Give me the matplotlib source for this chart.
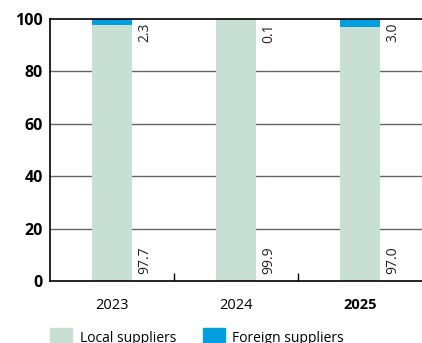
import matplotlib
matplotlib.use('Agg')
import matplotlib.pyplot as plt
import numpy as np
from matplotlib.patches import Patch

years = ['2023', '2024', '2025']
local = [97.7, 99.9, 97.0]
foreign = [2.3, 0.1, 3.0]

colorLocal = '#c8e0d4'
colorForeign = '#009fe0'

plt.rcParams['font.family'] = ['Open Sans', 'DejaVu Sans']

fig = plt.figure(figsize=(4.22, 3.43), dpi=100)
ax = fig.add_axes([50 / 422, 1 - 281 / 343, 1 - 50 / 422, (281 - 19) / 343])

x = np.arange(len(years))
width = 0.33
ax.bar(x, local, width, color=colorLocal, zorder=2)
ax.bar(x, foreign, width, bottom=local, color=colorForeign, zorder=2)

# value labels, rotated, to the right of every bar
for i in range(len(years)):
    ax.text(x[i] + 0.265, 98.5, f'{foreign[i]:.1f}', rotation=90, ha='center', va='top',
            fontsize=10, color='#222222')
    ax.text(x[i] + 0.265, 2.5, f'{local[i]:.1f}', rotation=90, ha='center', va='bottom',
            fontsize=10, color='#222222')

ax.set_xlim(-0.5, 2.5)
ax.set_ylim(0, 100)
ax.set_yticks([0, 20, 40, 60, 80, 100])
ax.set_yticklabels(['0', '20', '40', '60', '80', '100'], fontweight='bold', fontsize=11.5)
for y in [20, 40, 60, 80]:
    ax.axhline(y, color='#666666', lw=1, zorder=1)
ax.axhline(100, color='black', lw=1.2, zorder=3, clip_on=False)

ax.set_xticks(x)
ax.set_xticklabels(years, fontsize=10.5)
ax.get_xticklabels()[2].set_fontweight('bold')
ax.tick_params(axis='x', length=0, pad=12)
ax.tick_params(axis='y', length=0, pad=5)
# small separators between the categories
ax.set_xticks([0.5, 1.5], minor=True)
ax.tick_params(axis='x', which='minor', direction='in', length=6, width=1, color='black')

for side in ['top', 'right']:
    ax.spines[side].set_visible(False)
ax.spines['left'].set_linewidth(1.2)
ax.spines['bottom'].set_linewidth(1.2)

handles = [Patch(color=colorLocal, label='Local suppliers'),
           Patch(color=colorForeign, label='Foreign suppliers')]
fig.legend(handles=handles, loc='upper left', bbox_to_anchor=(50 / 422, 1 - 328 / 343),
           ncol=2, frameon=False, borderpad=0, borderaxespad=0, fontsize=10,
           handlelength=1.6, handleheight=1.7, handletextpad=0.55, columnspacing=1.9)

fig.savefig('out.png', dpi=100)
